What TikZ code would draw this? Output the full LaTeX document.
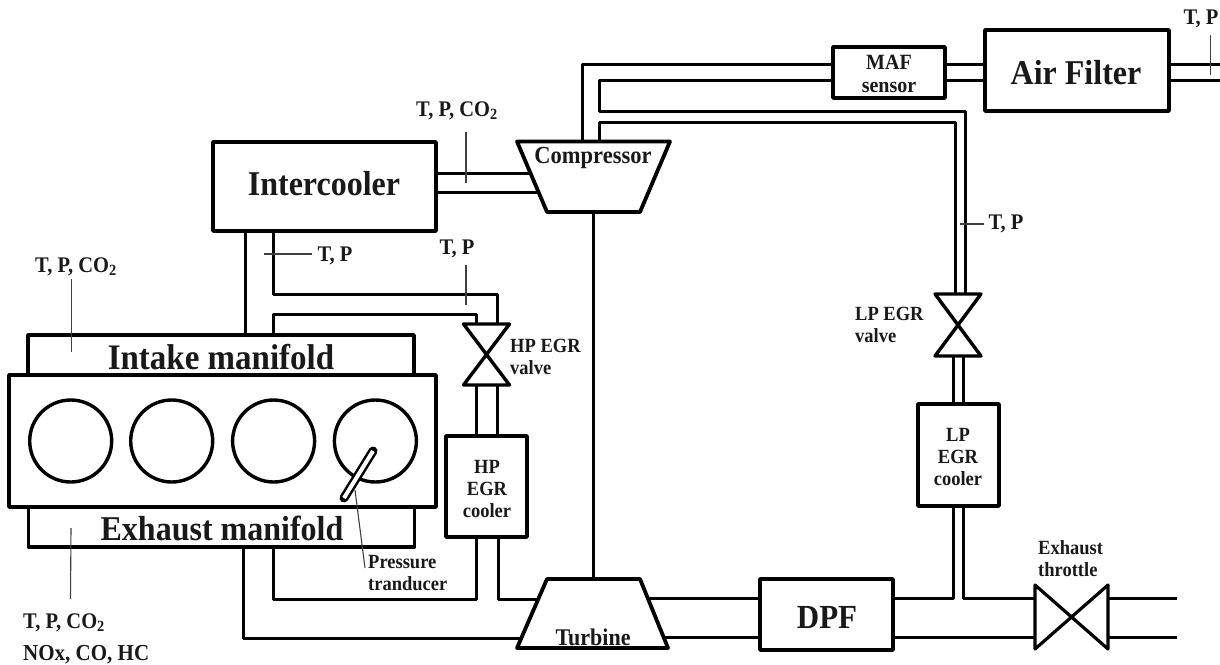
\documentclass[tikz,border=0pt]{standalone}
\usepackage{fontspec}
\setmainfont{Liberation Serif}[FakeStretch=0.92,Scale=1.087]
\usetikzlibrary{calc}
\newcommand{\fs}[1]{\fontsize{#1}{#1}\selectfont\bfseries}
\tikzset{
  boxnode/.style={draw=black,line width=3.6pt,line join=round,fill=white,inner sep=0pt,align=center,text=black!90},
  pipe/.style={draw=black,line width=3pt,line join=round},
  tick/.style={draw=black!75,line width=1.1pt},
  shell/.style={draw=black,line width=3.8pt,line join=round,fill=white},
  lbl/.style={inner sep=0pt,text=black!90,align=left},
  cyl/.style={draw=black,line width=3.4pt,circle,minimum size=82pt,inner sep=0pt,fill=white},
}
\begin{document}
\begin{tikzpicture}[x=1pt,y=-1pt]
\useasboundingbox (0,0) rectangle (1220,664);
% boxes
\node[boxnode,minimum width=223pt,minimum height=89pt] (ic) at (324.5,186.5) {};
\node[boxnode,minimum width=386pt,minimum height=40pt] (im) at (221,355) {};
\node[boxnode,minimum width=386pt,minimum height=40pt] (em) at (221.5,527) {};
\node[boxnode,minimum width=427pt,minimum height=132pt] (eng) at (222.5,441) {};
\node[boxnode,minimum width=112pt,minimum height=51pt] (maf) at (889,72.5) {};
\node[boxnode,minimum width=184pt,minimum height=81pt] (af) at (1077,70.5) {};
\node[boxnode,minimum width=81pt,minimum height=101pt] (hpc) at (486.5,486.5) {};
\node[boxnode,minimum width=81pt,minimum height=102pt] (lpc) at (958.5,455) {};
\node[boxnode,minimum width=133pt,minimum height=71pt] (dpf) at (826.5,614.5) {};
% cylinders
\node[cyl] (c1) at (70.7,441) {};
\node[cyl] (c2) at (171.7,441) {};
\node[cyl] (c3) at (273.6,441) {};
\node[cyl] (c4) at (375.4,441) {};
% compressor & turbine corners
\coordinate (cTL) at (517,141.5); \coordinate (cTR) at (670,141.5);
\coordinate (cBL) at (547,212); \coordinate (cBR) at (640,212);
\coordinate (tTL) at (547,579); \coordinate (tTR) at (640,579);
\coordinate (tBL) at (517,648); \coordinate (tBR) at (668,648);
\draw[shell] (cTL)--(cTR)--(cBR)--(cBL)--cycle;
\draw[shell] (tTL)--(tTR)--(tBR)--(tBL)--cycle;
\node[lbl,font=\fs{22.5}] (comp) at (593,158) {Compressor};
\node[lbl,font=\fs{22}] (turb) at (593,637) {Turbine};
% valve corners
\coordinate (hvTL) at (463.5,324); \coordinate (hvTR) at (509.5,324);
\coordinate (hvBL) at (463.5,385); \coordinate (hvBR) at (509.5,385);
\draw[shell,fill=none,line width=3.4pt] (hvTL)--(hvTR)--(hvBL)--(hvBR)--cycle;
\coordinate (lvTL) at (935,294); \coordinate (lvTR) at (981,294);
\coordinate (lvBL) at (935,356); \coordinate (lvBR) at (981,356);
\draw[shell,fill=none,line width=3.4pt] (lvTL)--(lvTR)--(lvBL)--(lvBR)--cycle;
\coordinate (etTL) at (1035,585); \coordinate (etBL) at (1035,649);
\coordinate (etTR) at (1108,585); \coordinate (etBR) at (1108,649);
\draw[shell,fill=none,line width=3.2pt] (etTL)--(etBR)--(etTR)--(etBL)--cycle;
% pipes intercooler - compressor
\coordinate (c1a) at (530.5,173); \coordinate (c1b) at (538.5,192);
\draw[pipe] (ic.east |- c1a) -- (c1a);
\draw[pipe] (ic.east |- c1b) -- (c1b);
% intercooler to manifold and HP valve
\coordinate (p1) at (245,231);
\draw[pipe] (ic.south -| p1) -- (im.north -| p1);
\coordinate (p2) at (273.5,294); \coordinate (p3) at (497,294);
\draw[pipe] (ic.south -| p2) -- (p2) -- (p3) -- (p3 |- hvTR);
\coordinate (p4) at (273.5,314); \coordinate (p5) at (476.5,314);
\draw[pipe] (im.north -| p4) -- (p4) -- (p5) -- (p5 |- hvTL);
% HP valve to cooler
\draw[pipe] (p5 |- hvBL) -- (hpc.north -| p5);
\draw[pipe] (p3 |- hvBL) -- (hpc.north -| p3);
% exhaust manifold
\coordinate (e1) at (243,638); \coordinate (e1t) at (522,638);
\draw[pipe] (em.south -| e1) -- (e1) -- (e1t);
\coordinate (e2) at (273.5,599); \coordinate (e3) at (476.5,599);
\draw[pipe] (em.south -| e2) -- (e2) -- (e3) -- (hpc.south -| e3);
\coordinate (e4) at (498,599); \coordinate (e4t) at (539,599);
\draw[pipe] (hpc.south -| e4) -- (e4) -- (e4t);
% shaft
\coordinate (sh) at (593.5,400);
\draw[pipe] (cBL -| sh) -- (tTL -| sh);
% turbine - DPF
\coordinate (t1) at (648,598); \coordinate (t2) at (663,637);
\draw[pipe] (t1) -- (dpf.west |- t1);
\draw[pipe] (t2) -- (dpf.west |- t2);
% DPF - throttle and LP branch
\coordinate (d1) at (953.5,598); \coordinate (d2) at (963.5,598);
\draw[pipe] (dpf.east |- d1) -- (d1) -- (lpc.south -| d1);
\draw[pipe] (lpc.south -| d2) -- (d2) -- (etTL |- d2);
\draw[pipe] (dpf.east |- t2) -- (etTL |- t2);
\coordinate (x1) at (1177,598); \coordinate (x2) at (1177,637);
\draw[pipe] (etTR |- x1) -- (x1);
\draw[pipe] (etTR |- x2) -- (x2);
% LP cooler - valve
\draw[pipe] (lpc.north -| d1) -- (d1 |- lvBL);
\draw[pipe] (lpc.north -| d2) -- (d2 |- lvBL);
% LP valve to compressor
\coordinate (l1) at (965,111); \coordinate (l2) at (599.5,111); \coordinate (l3) at (599.5,80);
\coordinate (l4) at (955,122); \coordinate (l5) at (599.5,122);
\draw[pipe] (l1 |- lvTR) -- (l1) -- (l2) -- (l3) -- (maf.west |- l3);
\draw[pipe] (l4 |- lvTL) -- (l4) -- (l5) -- (l5 |- cTL);
\coordinate (u1) at (582,141); \coordinate (u2) at (582,64);
\draw[pipe] (u1) -- (u2) -- (maf.west |- u2);
% MAF - filter - outlet
\draw[pipe] (maf.east |- u2) -- (af.west |- u2);
\draw[pipe] (maf.east |- l3) -- (af.west |- l3);
\coordinate (o1) at (1220,64); \coordinate (o2) at (1220,80);
\draw[pipe] (af.east |- o1) -- (o1);
\draw[pipe] (af.east |- o2) -- (o2);
% pressure transducer
\coordinate (prA) at (373,451); \coordinate (prB) at (344,498);
\draw[draw=black,line width=9pt,line cap=round] (prA) -- (prB);
\draw[draw=white,line width=4pt,line cap=butt] (prA) -- (prB);
% text
\node[lbl,font=\fs{32}] (ict) at (324,184) {Intercooler};
\node[lbl,font=\fs{32}] (aft) at (1076,73) {Air Filter};
\node[lbl,font=\fs{31}] (dpft) at (827,617) {DPF};
\node[lbl,font=\fs{33}] (imt) at (221,357) {Intake manifold};
\node[lbl,font=\fs{32}] (emt) at (222,528) {Exhaust manifold};
\node[lbl,font=\fs{20},align=center,text width=100pt] (maft) at (889,74) {MAF\\[3.5pt]sensor};
\node[lbl,font=\fs{18.5},align=center] (hpt) at (487,489) {HP\\[3.5pt]EGR\\[3.5pt]cooler};
\node[lbl,font=\fs{18.5},align=center] (lpt) at (958,457) {LP\\[3.5pt]EGR\\[3.5pt]cooler};
\node[lbl,font=\fs{18.5},anchor=west] (hvt) at (510,357) {HP EGR\\[3.5pt]valve};
\node[lbl,font=\fs{18.5},anchor=west] (lvt) at (855,325) {LP EGR\\[3.5pt]valve};
\node[lbl,font=\fs{18.5},anchor=west] (ett) at (1038,559) {Exhaust\\[3.5pt]throttle};
\node[lbl,font=\fs{18.5},anchor=west] (prt) at (368,573) {Pressure\\[3.5pt]tranducer};
\node[lbl,font=\fs{20.5}] (tp1) at (457,111) {T, P, CO\textsubscript{2}};
\node[lbl,font=\fs{20.5}] (tp2) at (335,256) {T, P};
\node[lbl,font=\fs{20.5}] (tp3) at (457,249) {T, P};
\node[lbl,font=\fs{20.5}] (tp4) at (76,267) {T, P, CO\textsubscript{2}};
\node[lbl,font=\fs{20.5}] (tp5) at (1006,224) {T, P};
\node[lbl,font=\fs{20.5}] (tp6) at (1201,19) {T, P};
\node[lbl,font=\fs{20.5},anchor=west] (tp7) at (23,623) {T, P, CO\textsubscript{2}};
\node[lbl,font=\fs{21},anchor=west] (nox) at (23,655) {NOx, CO, HC};
% sensor ticks
\coordinate (k1) at (466,132); \coordinate (k1b) at (466,183);
\draw[tick] (k1) -- (k1b);
\coordinate (k2) at (264,254); \coordinate (k2b) at (312,254);
\draw[tick] (k2) -- (k2b);
\coordinate (k3) at (466,265); \coordinate (k3b) at (466,305);
\draw[tick] (k3) -- (k3b);
\coordinate (k4) at (71.5,279); \coordinate (k4b) at (71.5,352);
\draw[tick] (k4) -- (k4b);
\coordinate (k5) at (71,528); \coordinate (k5b) at (70.5,599);
\draw[tick] (k5) -- (k5b);
\coordinate (k6) at (960,224); \coordinate (k6b) at (984,224);
\draw[tick] (k6) -- (k6b);
\coordinate (k7) at (1210.5,35); \coordinate (k7b) at (1210.5,75);
\draw[tick] (k7) -- (k7b);
\coordinate (k8) at (355,490); \coordinate (k8b) at (365,568);
\draw[tick] (k8) -- (k8b);
\end{tikzpicture}
\end{document}
